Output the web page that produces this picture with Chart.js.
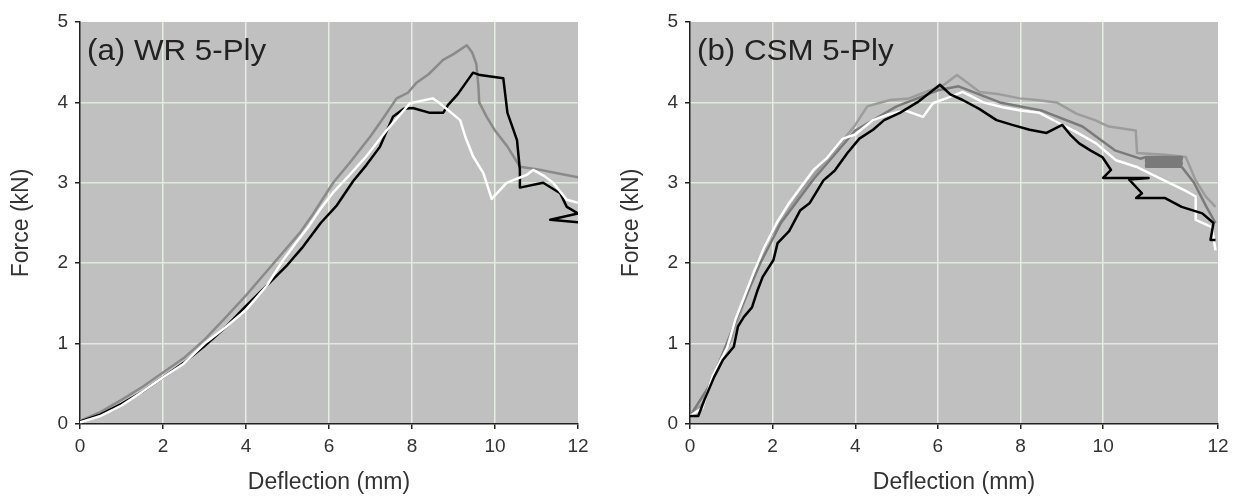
<!DOCTYPE html>
<html>
<head>
<meta charset="utf-8">
<script src="https://cdn.jsdelivr.net/npm/chart.js@4.4.1/dist/chart.umd.min.js"></script>
<style>
    body { margin: 0; background: #fff; }
    #wrap { position: relative; width: 1244px; height: 504px; }
    canvas { position: absolute; top: 0; }
</style>
</head>
<body>
<div id="wrap">
    <canvas id="wrChart" width="610" height="504" style="left:0"></canvas>
    <canvas id="csmChart" width="634" height="504" style="left:610px"></canvas>
</div>
<script>
// deflection (mm), force (kN) pairs
const wrGray = [[0,0.04],[0.5,0.15],[1,0.3],[1.5,0.46],[2,0.64],[2.5,0.82],[3,1.05],[3.5,1.32],[4,1.6],[4.5,1.9],[5,2.2],[5.3,2.38],[5.6,2.6],[6.1,3.0],[6.5,3.25],[7,3.58],[7.3,3.8],[7.63,4.05],[7.9,4.12],[8.1,4.24],[8.4,4.35],[8.75,4.53],[9.0,4.6],[9.32,4.71],[9.45,4.62],[9.55,4.48],[9.6,4.2],[9.62,4.0],[9.8,3.82],[10.0,3.65],[10.3,3.45],[10.6,3.2],[11.0,3.17],[11.5,3.12],[12,3.07]];
const wrBlack = [[0,0.03],[0.5,0.12],[1,0.25],[1.5,0.4],[2,0.58],[2.5,0.76],[3,0.97],[3.5,1.2],[4,1.47],[4.5,1.72],[5,1.98],[5.35,2.19],[5.8,2.5],[6.19,2.72],[6.58,3.02],[6.9,3.22],[7.23,3.45],[7.54,3.82],[7.8,3.92],[8.02,3.93],[8.43,3.87],[8.75,3.87],[8.87,3.97],[9.1,4.1],[9.47,4.37],[9.64,4.34],[10.2,4.3],[10.3,3.87],[10.45,3.65],[10.53,3.53],[10.6,3.16],[10.6,2.94],[11.16,3.0],[11.57,2.87],[11.73,2.7],[12,2.62],[11.33,2.54],[12,2.51]];
const wrWhite = [[0,0.02],[0.5,0.1],[1,0.23],[1.5,0.4],[2,0.58],[2.5,0.75],[2.8,0.9],[3,1.0],[3.5,1.2],[4,1.42],[4.5,1.72],[4.87,2.02],[5.2,2.25],[5.5,2.45],[5.8,2.68],[6.1,2.88],[6.5,3.1],[6.9,3.33],[7.4,3.66],[7.95,3.99],[8.5,4.05],[8.67,3.99],[9.16,3.78],[9.3,3.55],[9.47,3.33],[9.72,3.12],[9.92,2.8],[10.28,3.0],[10.77,3.1],[10.92,3.16],[11.2,3.08],[11.4,3.0],[11.73,2.79],[12,2.75]];

const csmBlack = [[0,0.1],[0.2,0.1],[0.35,0.3],[0.58,0.58],[0.8,0.8],[1.06,0.96],[1.16,1.21],[1.3,1.33],[1.5,1.45],[1.64,1.67],[1.76,1.83],[2.02,2.04],[2.12,2.25],[2.4,2.4],[2.67,2.66],[2.9,2.75],[3.23,3.03],[3.5,3.15],[3.81,3.37],[4.1,3.55],[4.43,3.66],[4.7,3.78],[5.08,3.87],[5.5,4.0],[5.88,4.15],[6.05,4.22],[6.3,4.1],[6.6,4.03],[7.0,3.92],[7.42,3.78],[7.8,3.72],[8.22,3.66],[8.63,3.62],[9.01,3.72],[9.2,3.6],[9.42,3.49],[9.7,3.4],[9.98,3.32],[10.19,3.16],[10.0,3.06],[11.1,3.06],[10.63,3.04],[10.94,2.87],[10.8,2.81],[11.5,2.81],[11.9,2.7],[12.4,2.62],[12.67,2.5],[12.6,2.29],[12.72,2.29]];
const csmWhite = [[0,0.1],[0.3,0.2],[0.55,0.6],[0.9,0.95],[1.1,1.3],[1.54,1.88],[1.8,2.2],[2.1,2.5],[2.4,2.75],[2.99,3.16],[3.3,3.3],[3.7,3.55],[4.0,3.6],[4.43,3.78],[4.8,3.85],[5.2,3.9],[5.64,3.82],[5.88,3.99],[6.2,4.05],[6.6,4.13],[7.1,4.0],[7.57,3.94],[8.0,3.9],[8.46,3.87],[8.9,3.75],[9.35,3.63],[9.83,3.49],[10.31,3.28],[10.8,3.2],[11.2,3.1],[11.6,3.0],[12.0,2.9],[12.24,2.83],[12.24,2.54],[12.63,2.45],[12.72,2.16]];
const csmDarkGray = [[0,0.1],[0.5,0.5],[1.2,1.4],[1.7,2.0],[2.2,2.5],[3.0,3.05],[4.0,3.65],[5.0,3.95],[6.0,4.15],[6.5,4.2],[7.5,4.0],[8.5,3.9],[9.5,3.7],[10.3,3.4],[10.9,3.3],[11.04,3.32],[11.9,3.32],[11.9,3.29],[11.04,3.29],[11.04,3.26],[11.9,3.26],[11.9,3.23],[11.04,3.23],[11.04,3.2],[11.9,3.2],[12.2,3.0],[12.5,2.7],[12.72,2.5]];
const csmGray = [[0,0.1],[0.3,0.25],[0.6,0.65],[1.0,1.05],[1.3,1.5],[1.6,1.95],[1.9,2.3],[2.3,2.6],[2.7,2.9],[3.0,3.1],[3.5,3.4],[4.0,3.72],[4.29,3.95],[4.84,4.03],[5.3,4.05],[5.8,4.15],[6.1,4.2],[6.46,4.34],[6.7,4.25],[7.01,4.13],[7.5,4.1],[7.98,4.05],[8.4,4.03],[8.87,4.0],[9.35,3.86],[9.8,3.78],[10.14,3.7],[10.79,3.65],[10.82,3.37],[11.5,3.35],[12.0,3.32],[12.24,3.03],[12.48,2.83],[12.72,2.7]];

const yTicks = [0, 1, 2, 3, 4, 5];
const wrXTicks = [0, 2, 4, 6, 8, 10, 12];
const wrXLabels = ['0', '2', '4', '6', '8', '10', '12'];
// the right panel's last interval is drawn wider than the others
const csmXTicks = [0, 2, 4, 6, 8, 10, 12.78];
const csmXLabels = ['0', '2', '4', '6', '8', '10', '12'];

const FONT = '"Liberation Sans", Arial, sans-serif';

const plotBackground = {
    id: 'plotBackground',
    beforeDraw(chart) {
        const { ctx, chartArea: a } = chart;
        ctx.save();
        ctx.fillStyle = '#c0c0c0';
        ctx.fillRect(a.left, a.top, a.right - a.left, a.bottom - a.top);
        ctx.restore();
    }
};

const panelLabel = {
    id: 'panelLabel',
    afterDatasetsDraw(chart, args, opts) {
        const { ctx, chartArea: a } = chart;
        ctx.save();
        ctx.font = '29px ' + FONT;
        ctx.fillStyle = '#222';
        ctx.textBaseline = 'alphabetic';
        // the reference lettering is a little wider than Arial
        ctx.translate(a.left + 7, a.top + 38);
        ctx.scale(1.08, 1);
        ctx.fillText(opts.text, 0, 0);
        ctx.restore();
    }
};

function toPoints(pairs) {
    return pairs.map(p => ({ x: p[0], y: p[1] }));
}

function lineSet(pairs, color) {
    return {
        data: toPoints(pairs),
        borderColor: color,
        borderWidth: 2.5,
        borderJoinStyle: 'round',
        pointRadius: 0,
        tension: 0,
        fill: false
    };
}

function makeChart(id, datasets, xTicks, xLabels, rightPad, label) {
    const xMax = xTicks[xTicks.length - 1];
    return new Chart(document.getElementById(id), {
        type: 'line',
        data: { datasets: datasets },
        plugins: [plotBackground, panelLabel],
        options: {
            responsive: false,
            animation: false,
            layout: { padding: { top: 22, right: rightPad, left: 0, bottom: 0 } },
            plugins: { legend: { display: false }, tooltip: { enabled: false }, panelLabel: { text: label } },
            scales: {
                x: {
                    type: 'linear', min: 0, max: xMax,
                    afterBuildTicks: s => { s.ticks = xTicks.map(v => ({ value: v })); },
                    afterFit: s => { s.height = 80; },
                    ticks: {
                        autoSkip: false, maxRotation: 0, padding: 6, color: '#333',
                        font: { size: 19, family: FONT },
                        callback: v => xLabels[xTicks.indexOf(v)]
                    },
                    grid: {
                        color: c => (c.index === 0 || c.index === xTicks.length - 1) ? 'rgba(0,0,0,0)' : '#e6eee4',
                        lineWidth: 1.5, tickColor: '#222', tickLength: 5
                    },
                    border: { display: true, color: '#222', width: 1.5 },
                    title: {
                        display: true, text: 'Deflection (mm)', color: '#333',
                        font: { size: 23, family: FONT }, padding: { top: 0, bottom: 8 }
                    }
                },
                y: {
                    min: 0, max: 5,
                    afterBuildTicks: s => { s.ticks = yTicks.map(v => ({ value: v })); },
                    afterFit: s => { s.width = 80; },
                    ticks: { padding: 7, color: '#333', font: { size: 19, family: FONT } },
                    grid: {
                        color: c => (c.index === 0 || c.index === yTicks.length - 1) ? 'rgba(0,0,0,0)' : '#e0eadd',
                        lineWidth: 1.5, tickColor: '#222', tickLength: 5
                    },
                    border: { display: true, color: '#222', width: 1.5 },
                    title: {
                        display: true, text: 'Force (kN)', color: '#333',
                        font: { size: 23, family: FONT }, padding: { top: 8, bottom: 0 }
                    }
                }
            }
        }
    });
}

// first dataset is painted last, so it sits on top
makeChart('wrChart', [
    lineSet(wrWhite, '#ffffff'),
    lineSet(wrBlack, '#000000'),
    lineSet(wrGray, '#8a8a8a')
], wrXTicks, wrXLabels, 32, '(a) WR 5-Ply');

makeChart('csmChart', [
    lineSet(csmBlack, '#000000'),
    lineSet(csmWhite, '#ffffff'),
    lineSet(csmDarkGray, '#7a7a7a'),
    lineSet(csmGray, '#9c9c9c')
], csmXTicks, csmXLabels, 26, '(b) CSM 5-Ply');
</script>
</body>
</html>
